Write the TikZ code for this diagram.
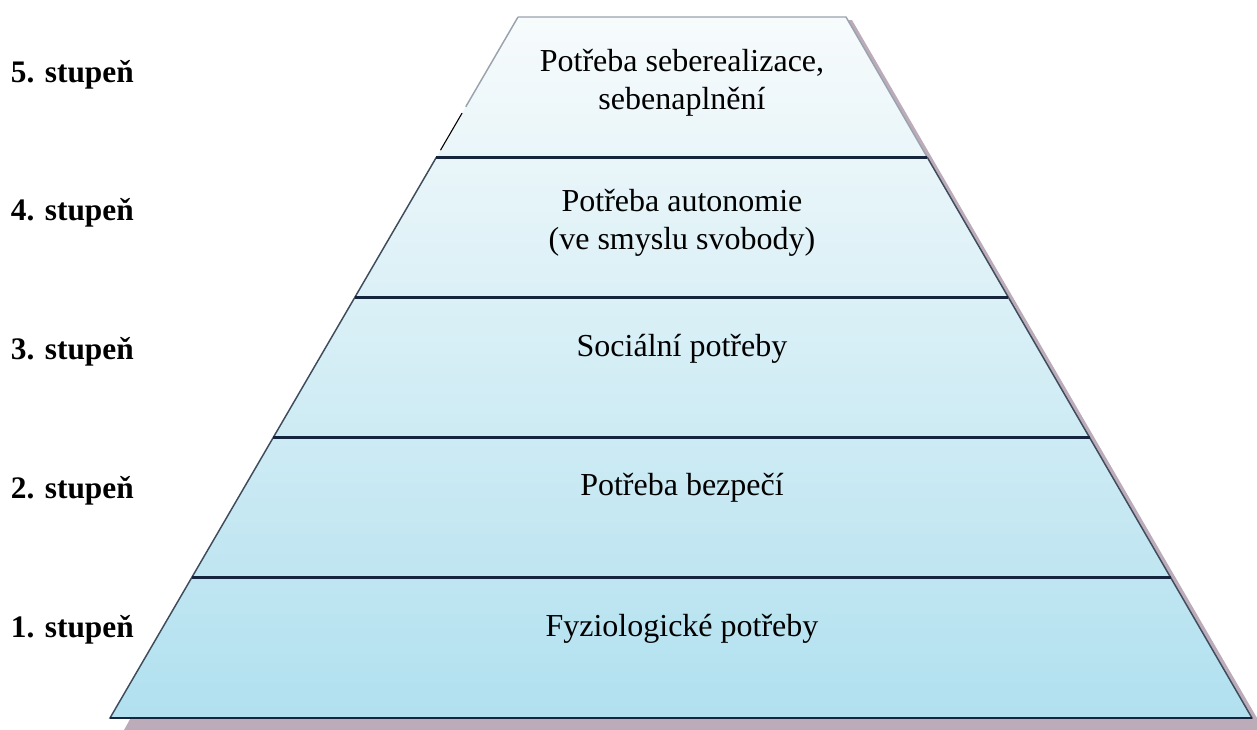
\documentclass[tikz,border=0pt]{standalone}
\usepackage{fontspec}
\setmainfont{Liberation Serif}
\usetikzlibrary{calc}
\definecolor{ptop}{HTML}{F7FBFC}
\definecolor{pmid}{HTML}{CDECF5}
\definecolor{pbot}{HTML}{B1E0EF}
\definecolor{pline}{HTML}{14253D}
\definecolor{pedge}{HTML}{3F4C5C}
\definecolor{pgrey}{HTML}{9AA3AD}
\definecolor{pshadow}{HTML}{BCACBA}

\begin{document}
\begin{tikzpicture}[x=0.75pt,y=-0.75pt,
lvl/.style={font=\fontsize{24}{28.5}\selectfont,align=center,inner sep=0pt},
stup/.style={font=\fontsize{23.5}{28}\selectfont\bfseries,anchor=east,inner sep=0pt},
divider/.style={draw=pline,line width=2.2pt},
rim/.style={draw=pedge,line width=1.1pt}]
\useasboundingbox (0,0) rectangle (1257,729);

\coordinate (tl) at (518,17);
\coordinate (tr) at (846,17);
\coordinate (bl) at (110,718);
\coordinate (br) at (1252,718);

% shadow and body
\fill[pshadow] ($(tl)+(3,3)$) -- ($(tr)+(6,3)$) -- ($(br)+(12,12)$) -- ($(bl)+(14,12)$) -- cycle;
\shade[top color=ptop,middle color=pmid,bottom color=pbot] (tl) -- (tr) -- (br) -- (bl) -- cycle;

% outline
\draw[rim,draw=pgrey] (tl) -- (tr) -- ($(tr)!0.2!(br)$);
\draw[rim] ($(tr)!0.2!(br)$) -- (br) -- (bl) -- ($(tl)!0.2!(bl)$);
\draw[rim,draw=pgrey] (tl) -- ($(tl)!0.128!(bl)$);
\draw[draw=black,line width=0.8pt] ($(tl)!0.137!(bl)$) -- ($(tl)!0.19!(bl)$);
\draw[draw=pline,line width=1.5pt] (bl) -- (br);

\foreach \f in {0.2,0.4,0.6,0.8}
  \draw[divider] ($(tl)!\f!(bl)$) -- ($(tr)!\f!(br)$);

\node[lvl] (n5) at (682,83) {Potřeba seberealizace,\\sebenaplnění};
\node[lvl] (n4) at (682,223) {Potřeba autonomie\\(ve smyslu svobody)};
\node[lvl] (n3) at (682,349) {Sociální potřeby};
\node[lvl] (n2) at (682,488) {Potřeba bezpečí};
\node[lvl] (n1) at (682,629) {Fyziologické potřeby};

\node[stup] (s5) at (134,75) {5. stupeň};
\node[stup] (s4) at (134,213) {4. stupeň};
\node[stup] (s3) at (134,352) {3. stupeň};
\node[stup] (s2) at (134,491) {2. stupeň};
\node[stup] (s1) at (134,630) {1. stupeň};
\end{tikzpicture}
\end{document}
